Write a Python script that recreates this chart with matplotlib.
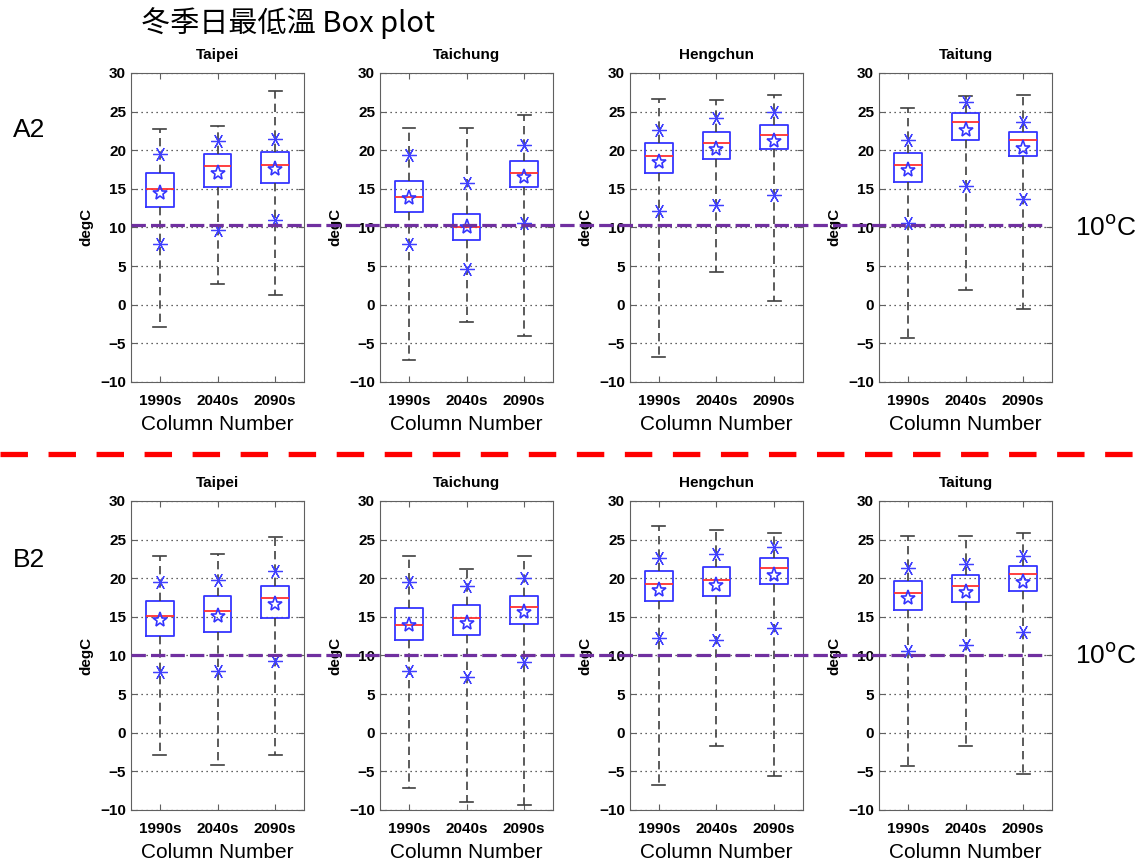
import numpy as np
import matplotlib
matplotlib.use("Agg")
import matplotlib.pyplot as plt
from matplotlib.lines import Line2D
from matplotlib.transforms import blended_transform_factory

plt.rcParams['font.family'] = ['Liberation Sans', 'Noto Sans CJK TC', 'DejaVu Sans']

#%% Data
stations = ["Taipei", "Taichung", "Hengchun", "Taitung"]
periods = ["1990s", "2040s", "2090s"]
scenarios = ["A2", "B2"]
thresh_line = [10.3, 10.0]   # where the 10 degC line sits in each row

# A2: rows = stations, cols = periods
a2_whislo = [[-2.9, 2.7, 1.3], [-7.2, -2.3, -4.1], [-6.8, 4.2, 0.5], [-4.3, 1.9, -0.6]]
a2_plo    = [[7.8, 9.7, 11.0], [7.9, 4.6, 10.6], [12.1, 12.9, 14.2], [10.6, 15.4, 13.7]]
a2_q1     = [[12.6, 15.2, 15.8], [12.0, 8.4, 15.2], [17.1, 18.9, 20.1], [15.9, 21.3, 19.3]]
a2_med    = [[15.0, 17.9, 18.1], [13.9, 10.0, 17.0], [19.2, 20.9, 21.9], [18.1, 23.7, 21.3]]
a2_mean   = [[14.5, 17.0, 17.6], [13.85, 10.1, 16.5], [18.5, 20.2, 21.2], [17.4, 22.55, 20.3]]
a2_q3     = [[17.0, 19.5, 19.7], [16.0, 11.7, 18.6], [20.9, 22.4, 23.2], [19.6, 24.8, 22.4]]
a2_phi    = [[19.5, 21.2, 21.5], [19.4, 15.7, 20.7], [22.6, 24.1, 24.9], [21.3, 26.2, 23.7]]
a2_whishi = [[22.8, 23.1, 27.7], [22.9, 22.9, 24.6], [26.6, 26.5, 27.1], [25.5, 27.0, 27.2]]

# B2
b2_whislo = [[-2.9, -4.2, -2.9], [-7.2, -9.0, -9.3], [-6.8, -1.7, -5.6], [-4.3, -1.7, -5.3]]
b2_plo    = [[7.8, 8.0, 9.3], [8.0, 7.2, 9.1], [12.2, 12.0, 13.5], [10.6, 11.4, 13.0]]
b2_q1     = [[12.55, 13.0, 14.9], [12.0, 12.6, 14.1], [17.1, 17.7, 19.2], [15.9, 16.9, 18.3]]
b2_med    = [[15.1, 15.8, 17.5], [14.0, 14.85, 16.3], [19.2, 19.8, 21.3], [18.1, 19.05, 20.5]]
b2_mean   = [[14.6, 15.1, 16.6], [13.9, 14.2, 15.6], [18.5, 19.1, 20.4], [17.4, 18.2, 19.5]]
b2_q3     = [[17.0, 17.7, 19.0], [16.1, 16.5, 17.7], [20.9, 21.4, 22.6], [19.6, 20.4, 21.6]]
b2_phi    = [[19.5, 19.8, 20.9], [19.5, 19.0, 20.0], [22.6, 23.2, 24.1], [21.3, 21.8, 22.9]]
b2_whishi = [[22.9, 23.1, 25.3], [22.9, 21.2, 22.9], [26.7, 26.2, 25.9], [25.5, 25.5, 25.9]]

data = {
    "A2": (a2_whislo, a2_plo, a2_q1, a2_med, a2_mean, a2_q3, a2_phi, a2_whishi),
    "B2": (b2_whislo, b2_plo, b2_q1, b2_med, b2_mean, b2_q3, b2_phi, b2_whishi),
}

#%% Styles
blue = '#3535ff'
gray = '#404040'
purple = '#7030a0'

fig = plt.figure(figsize=(11.46, 8.66), dpi=100)

ax_left = [0.1143, 0.3316, 0.5497, 0.767]
ax_w = 0.151
row_bottom = [0.559, 0.0647]
ax_h = 0.3568

pos = np.arange(1, len(periods) + 1)

for r, sc in enumerate(scenarios):
    wlo, plo, q1, med, mn, q3, phi, whi = data[sc]
    row_axes = []
    for s, name in enumerate(stations):
        ax = fig.add_axes([ax_left[s], row_bottom[r], ax_w, ax_h])
        row_axes.append(ax)
        stats = []
        for k in range(len(periods)):
            stats.append(dict(med=med[s][k], q1=q1[s][k], q3=q3[s][k],
                              whislo=wlo[s][k], whishi=whi[s][k],
                              mean=mn[s][k], fliers=[]))
        ax.bxp(stats, positions=pos, widths=0.48, capwidths=0.22,
               showmeans=True, showfliers=False,
               boxprops=dict(color=blue, lw=1.3),
               medianprops=dict(color='#ff3030', lw=1.3),
               whiskerprops=dict(color=gray, lw=1.2, linestyle=(0, (5, 3))),
               capprops=dict(color=gray, lw=1.2),
               meanprops=dict(marker='*', markerfacecolor='none',
                              markeredgecolor=blue, markersize=11, markeredgewidth=1.2))
        for pct in (plo[s], phi[s]):
            ax.plot(pos, pct, linestyle='none', marker=(6, 2, 90), color='#4040ff',
                    markersize=10.5, markeredgewidth=0.9)

        ax.set_xlim(0.5, 3.5)
        ax.set_ylim(-10, 30)
        ax.set_yticks(np.arange(-10, 31, 5))
        ax.set_xticks(pos)
        ax.set_xticklabels(periods)
        ax.yaxis.grid(True, linestyle=(0, (1, 3)), color='#303030', lw=0.9)
        ax.set_axisbelow(True)
        ax.tick_params(direction='in', top=True, right=True, length=4,
                       color='#606060', labelsize=11)
        ax.tick_params(axis='x', pad=9)
        for lab in ax.get_xticklabels() + ax.get_yticklabels():
            lab.set_fontweight('bold')
        for sp in ax.spines.values():
            sp.set_color('#606060')
        ax.set_title(name, fontsize=11, fontweight='bold', pad=10)
        ax.set_ylabel("degC", fontsize=11, fontweight='bold', labelpad=5)
        ax.set_xlabel("Column Number", fontsize=15, labelpad=5)

    # purple threshold line across the whole row
    tr = blended_transform_factory(fig.transFigure, row_axes[0].transData)
    fig.add_artist(Line2D([ax_left[0], ax_left[-1] + ax_w - 0.006],
                          [thresh_line[r], thresh_line[r]], transform=tr,
                          color=purple, lw=2.3, linestyle=(0, (4.5, 1.6)),
                          zorder=10))
    fig.text(0.938, row_axes[-1].transData.transform((0, 10))[1] / fig.bbox.height,
             "10$^{\\mathrm{o}}$C", fontsize=19, va='center', ha='left')
    fig.text(0.011, 0.850 if r == 0 else 0.353, sc, fontsize=19, va='center', ha='left')

# red separator between scenarios
fig.add_artist(Line2D([0, 1], [0.4757, 0.4757], transform=fig.transFigure,
                      color='#ff0000', lw=3.8, linestyle=(0, (5.2, 3.9))))

fig.text(0.123, 0.973, "冬季日最低溫 Box plot", fontsize=21, va='center', ha='left',
         family=['Noto Sans CJK TC', 'Liberation Sans'])

fig.savefig("out.png", dpi=100)
